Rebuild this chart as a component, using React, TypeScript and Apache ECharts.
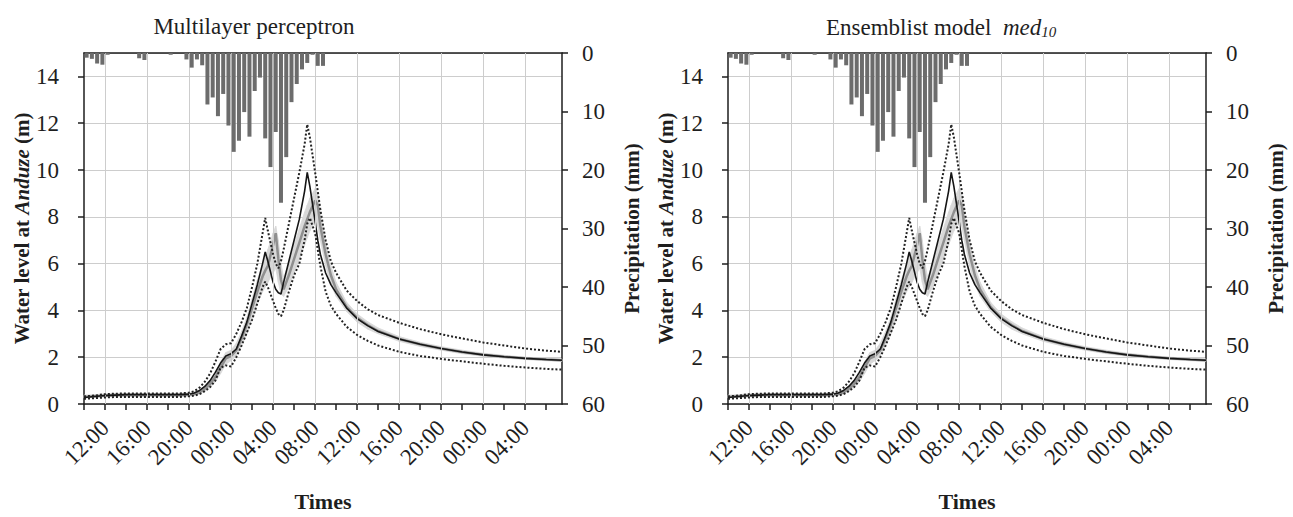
import React, { useEffect, useRef } from 'react';
import * as echarts from 'echarts';

// hours since 10:00 of the first day
const HOURS = [0, 1, 2, 3, 4, 5, 6, 7, 8, 9, 10,
  10.5, 11, 11.5, 12, 12.5, 13, 13.5, 14, 14.5, 15, 15.5, 16, 16.5, 17,
  17.25, 17.5, 18, 18.25, 18.5, 18.75, 19, 19.5, 20, 20.5, 21, 21.25, 21.5, 22, 22.25, 22.5, 23, 23.5, 24,
  25, 26, 27, 28, 30, 32, 34, 36, 38, 40, 42, 44, 45.5];

const observed = [0.28, 0.32, 0.36, 0.38, 0.4, 0.4, 0.4, 0.4, 0.4, 0.4, 0.42,
  0.47, 0.58, 0.75, 1.0, 1.35, 1.75, 2.05, 2.15, 2.35, 2.9, 3.5, 4.3, 5.1, 6.0,
  6.5, 6.1, 5.2, 4.9, 4.75, 4.7, 5.2, 6.1, 7.0, 7.9, 9.1, 9.9, 9.3, 7.8, 7.0, 6.4, 5.6, 5.1, 4.75,
  4.1, 3.65, 3.35, 3.1, 2.78, 2.55, 2.37, 2.22, 2.1, 2.02, 1.95, 1.9, 1.87];

const median = [0.3, 0.33, 0.36, 0.38, 0.38, 0.38, 0.38, 0.38, 0.38, 0.38, 0.4,
  0.43, 0.5, 0.65, 0.85, 1.15, 1.55, 1.95, 2.05, 2.3, 2.8, 3.4, 4.1, 4.8, 5.45,
  5.7, 5.9, 6.8, 7.3, 6.2, 5.3, 4.9, 5.5, 6.2, 6.9, 7.6, 7.9, 8.2, 8.7, 8.5, 7.6, 6.4, 5.5, 4.9,
  4.15, 3.68, 3.37, 3.12, 2.78, 2.55, 2.37, 2.22, 2.1, 2.02, 1.95, 1.9, 1.87];

const upperBound = [0.33, 0.36, 0.42, 0.44, 0.45, 0.45, 0.45, 0.45, 0.45, 0.45, 0.48,
  0.55, 0.7, 0.95, 1.3, 1.8, 2.35, 2.55, 2.6, 3.0, 3.5, 4.1, 5.0, 6.0, 7.3,
  7.95, 7.4, 6.4, 6.0, 5.8, 6.1, 6.6, 7.7, 8.8, 9.9, 11.1, 11.95, 11.4, 9.9, 9.1, 8.3, 7.0, 6.1, 5.6,
  4.85, 4.4, 4.05, 3.8, 3.47, 3.2, 2.98, 2.8, 2.63, 2.5, 2.37, 2.28, 2.23];

const lowerBound = [0.22, 0.25, 0.28, 0.3, 0.3, 0.3, 0.3, 0.3, 0.3, 0.3, 0.33,
  0.36, 0.42, 0.55, 0.72, 1.0, 1.55, 1.65, 1.6, 2.0, 2.5, 3.05, 3.6, 4.3, 5.0,
  5.23, 5.0, 4.4, 4.1, 3.85, 3.75, 4.0, 4.8, 5.5, 6.0, 7.0, 7.7, 7.95, 7.3, 6.6, 5.9, 4.8, 4.2, 3.85,
  3.3, 2.95, 2.7, 2.5, 2.23, 2.05, 1.93, 1.82, 1.72, 1.63, 1.56, 1.5, 1.47];

const ensembleLow = [0.25, 0.28, 0.3, 0.32, 0.32, 0.32, 0.32, 0.32, 0.32, 0.32, 0.33,
  0.36, 0.42, 0.55, 0.7, 0.95, 1.3, 1.7, 1.85, 2.05, 2.5, 3.0, 3.6, 4.3, 4.8,
  5.0, 5.2, 5.6, 5.8, 5.2, 4.7, 4.6, 5.0, 5.6, 6.2, 6.8, 7.1, 7.4, 7.8, 7.6, 7.0, 5.9, 5.1, 4.6,
  3.95, 3.5, 3.2, 3.0, 2.68, 2.46, 2.3, 2.15, 2.04, 1.96, 1.9, 1.85, 1.82];

const ensembleHigh = [0.38, 0.4, 0.43, 0.45, 0.45, 0.45, 0.45, 0.45, 0.45, 0.45, 0.48,
  0.52, 0.6, 0.78, 1.0, 1.35, 1.8, 2.2, 2.3, 2.6, 3.1, 3.7, 4.5, 5.3, 6.0,
  6.3, 6.6, 7.3, 7.6, 7.0, 6.0, 5.4, 6.0, 6.8, 7.5, 8.2, 8.5, 8.8, 9.2, 9.0, 8.2, 6.9, 5.9, 5.2,
  4.35, 3.85, 3.52, 3.25, 2.88, 2.64, 2.45, 2.3, 2.17, 2.08, 2.0, 1.95, 1.92];

// half-hourly precipitation (bar centre, hours since 10:00)
const precipHours = [0.25, 0.75, 1.25, 1.75, 2.25, 5.25, 5.75, 8.25,
  9.75, 10.25, 10.75, 11.25, 11.75, 12.25, 12.75, 13.25, 13.75, 14.25, 14.75, 15.25, 15.75,
  16.25, 16.75, 17.25, 17.75, 18.25, 18.75, 19.25, 19.75, 20.25, 20.75, 21.25, 21.75, 22.25, 22.75];
const precipMm = [0.8, 1.0, 1.8, 2.0, 0.3, 0.9, 1.2, 0.3,
  1.1, 2.5, 1.1, 2.1, 8.8, 7.6, 10.8, 7.0, 12.4, 16.9, 15.0, 10.1, 14.3,
  6.5, 4.2, 14.6, 19.5, 13.5, 25.6, 17.8, 8.4, 5.3, 2.8, 1.7, 0.3, 2.2, 2.2];

const START_CLOCK = 10;
const LABEL_HOURS = [2, 6, 10, 14, 18, 22, 26, 30, 34, 38, 42];

const FONT = '"Liberation Serif", "Times New Roman", serif';
const INK = '#1e1e1e';
const BAND = '#d8d8d8';

function pair(xs: number[], ys: number[]) {
  return xs.map((x, i) => [x, ys[i]]);
}

function timeLabel(v: number) {
  if (!LABEL_HOURS.includes(v)) return '';
  const h = (v + START_CLOCK) % 24;
  return (h < 10 ? '0' : '') + h + ':00';
}

// segments of the ensemble envelope: [t0, lo0, hi0, t1, lo1, hi1]
function bandSegments() {
  const out: number[][] = [];
  for (let k = 0; k < HOURS.length - 1; k++) {
    out.push([HOURS[k], ensembleLow[k], ensembleHigh[k], HOURS[k + 1], ensembleLow[k + 1], ensembleHigh[k + 1]]);
  }
  return out;
}

function buildPanel(i: number, left: number) {
  const xBottom = {
    gridIndex: i, type: 'value', min: 0, max: 45.5, interval: 2, position: 'bottom',
    axisLine: { show: true, onZero: false, lineStyle: { color: INK, width: 1.5 } },
    axisTick: { show: true, inside: false, length: 6, lineStyle: { color: INK, width: 1.5 } },
    axisLabel: { rotate: 45, fontSize: 23, fontFamily: FONT, color: INK, margin: 20, formatter: timeLabel, showMaxLabel: false },
    splitLine: { show: false },
    name: 'Times', nameLocation: 'middle', nameGap: 86,
    nameTextStyle: { fontSize: 22, fontWeight: 'bold', fontFamily: FONT, color: INK },
  };
  const xTop = {
    gridIndex: i, type: 'value', min: 0, max: 45.5, position: 'top',
    axisLine: { show: true, onZero: false, lineStyle: { color: INK, width: 1.5 } },
    axisTick: { show: false }, axisLabel: { show: false }, splitLine: { show: false },
  };
  const yLeft = {
    gridIndex: i, type: 'value', min: 0, max: 15, interval: 2, position: 'left',
    axisLine: { show: true, onZero: false, lineStyle: { color: INK, width: 1.5 } },
    axisTick: { show: true, inside: false, length: 6, lineStyle: { color: INK, width: 1.5 } },
    axisLabel: { fontSize: 23, fontFamily: FONT, color: INK, margin: 25, showMaxLabel: false },
    splitLine: { show: true, lineStyle: { color: '#cdcdcd', width: 1 } },
    name: '{b|Water level at }{bi|Anduze}{b| (m)}', nameLocation: 'middle', nameGap: 51, nameRotate: 90,
    nameTextStyle: {
      fontSize: 21, fontWeight: 'bold', fontFamily: FONT, color: INK,
      rich: {
        b: { fontSize: 21, fontWeight: 'bold', fontFamily: FONT, color: INK },
        bi: { fontSize: 21, fontWeight: 'bold', fontStyle: 'italic', fontFamily: FONT, color: INK },
      },
    },
  };
  const yRight = {
    gridIndex: i, type: 'value', min: 0, max: 60, interval: 10, inverse: true, position: 'right',
    axisLine: { show: true, onZero: false, lineStyle: { color: INK, width: 1.5 } },
    axisTick: { show: true, inside: false, length: 6, lineStyle: { color: INK, width: 1.5 } },
    axisLabel: { fontSize: 23, fontFamily: FONT, color: INK, margin: 20 },
    splitLine: { show: false },
    name: 'Precipitation (mm)', nameLocation: 'middle', nameGap: 59, nameRotate: 90,
    nameTextStyle: { fontSize: 21, fontWeight: 'bold', fontFamily: FONT, color: INK },
  };
  const xi = 2 * i;
  const yl = 2 * i;
  const yr = 2 * i + 1;
  const series = [
    {
      type: 'custom', xAxisIndex: xi, yAxisIndex: yl, z: 1, silent: true,
      data: bandSegments(),
      encode: { x: [0, 3], y: [1, 2, 4, 5] },
      renderItem: (params: any, api: any) => {
        const p0 = api.coord([api.value(0), api.value(1)]);
        const p1 = api.coord([api.value(3), api.value(4)]);
        const p2 = api.coord([api.value(3), api.value(5)]);
        const p3 = api.coord([api.value(0), api.value(2)]);
        return {
          type: 'polygon',
          shape: { points: [p0, p1, p2, p3] },
          style: { fill: BAND, stroke: BAND, lineWidth: 0.8 },
        };
      },
      markLine: {
        silent: true, symbol: ['none', 'none'], label: { show: false },
        lineStyle: { color: '#cdcdcd', width: 1, type: 'solid' },
        data: LABEL_HOURS.map((h) => ({ xAxis: h })),
      },
    },
    {
      type: 'line', xAxisIndex: xi, yAxisIndex: yl, symbol: 'none', data: pair(HOURS, median),
      lineStyle: { color: '#8f8f8f', width: 2.5 }, z: 3,
    },
    {
      type: 'line', xAxisIndex: xi, yAxisIndex: yl, symbol: 'none', data: pair(HOURS, observed),
      lineStyle: { color: '#151515', width: 1.6 }, z: 4,
    },
    {
      type: 'line', xAxisIndex: xi, yAxisIndex: yl, symbol: 'none', data: pair(HOURS, upperBound),
      lineStyle: { color: '#222', width: 2, type: [2, 2] }, z: 5,
    },
    {
      type: 'line', xAxisIndex: xi, yAxisIndex: yl, symbol: 'none', data: pair(HOURS, lowerBound),
      lineStyle: { color: '#222', width: 2, type: [2, 2] }, z: 5,
    },
    {
      type: 'bar', xAxisIndex: xi, yAxisIndex: yr, data: pair(precipHours, precipMm),
      barWidth: 4, itemStyle: { color: '#6c6c6c' }, z: 6,
    },
  ];
  return {
    grid: { left, top: 53, width: 478, height: 356, containLabel: false },
    xAxis: [xBottom, xTop],
    yAxis: [yLeft, yRight],
    series,
  };
}

export default function App() {
  const ref = useRef<HTMLDivElement>(null);
  useEffect(() => {
    if (!ref.current) return;
    const chart = echarts.init(ref.current, null, { renderer: 'svg', width: 1293, height: 517 });
    const p0 = buildPanel(0, 84);
    const p1 = buildPanel(1, 728);
    const option: any = {
      animation: false,
      backgroundColor: '#ffffff',
      grid: [p0.grid, p1.grid],
      xAxis: [...p0.xAxis, ...p1.xAxis],
      yAxis: [...p0.yAxis, ...p1.yAxis],
      series: [...p0.series, ...p1.series],
      graphic: [
        {
          type: 'text', x: 254, y: 26,
          style: { text: 'Multilayer perceptron', fontSize: 23, fontFamily: FONT, fill: INK, align: 'center', verticalAlign: 'middle' },
        },
        {
          type: 'text', x: 826, y: 13,
          style: {
            text: '{n|Ensemblist model  }{i|med}{s|10}', fontSize: 23, fontFamily: FONT, fill: INK,
            align: 'left', verticalAlign: 'top',
            rich: {
              n: { fontSize: 23, fontFamily: FONT, fill: INK, lineHeight: 26, verticalAlign: 'bottom' },
              i: { fontSize: 23, fontFamily: FONT, fontStyle: 'italic', fill: INK, lineHeight: 26, verticalAlign: 'bottom' },
              s: { fontSize: 15, fontFamily: FONT, fontStyle: 'italic', fill: INK, lineHeight: 15, verticalAlign: 'bottom', padding: [14, 0, 0, 0] },
            },
          },
        },
      ],
    };
    chart.setOption(option);
    return () => chart.dispose();
  }, []);
  return <div ref={ref} style={{ position: 'fixed', left: 0, top: 0, width: 1293, height: 517, background: '#fff' }} />;
}
